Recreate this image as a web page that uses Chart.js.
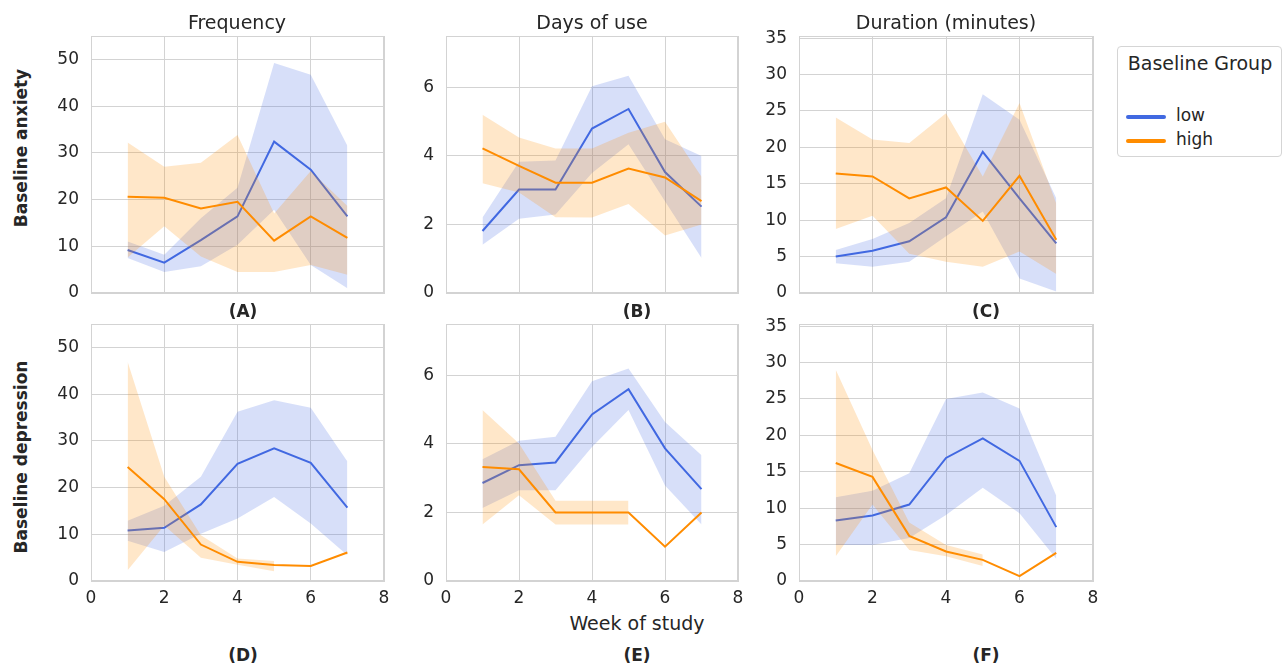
<!DOCTYPE html>
<html>
<head>
<meta charset="utf-8">
<script src="https://cdn.jsdelivr.net/npm/chart.js@4.4.1/dist/chart.umd.min.js"></script>
<style>
  body { margin: 0; background: #fff; width: 1285px; height: 666px; position: relative; overflow: hidden;
         font-family: "DejaVu Sans", sans-serif; color: #262626; }
  canvas { position: absolute; }
  .txt { position: absolute; white-space: nowrap; transform: translate(-50%, -50%); }
  .title { font-size: 19px; }
  .row { font-size: 17px; font-weight: bold; transform: translate(-50%, -50%) rotate(-90deg); }
  .tag { font-size: 17px; font-weight: bold; }
  #legend { position: absolute; left: 1117px; top: 46px; width: 165px; height: 111px;
            border: 1px solid #d5d5d5; border-radius: 4px; box-sizing: border-box; }
  .sw { position: absolute; left: 8px; width: 40px; height: 4px; border-radius: 2px; }
  .lab { position: absolute; left: 58px; font-size: 17px; }
</style>
</head>
<body>

<canvas id="cA" width="353" height="279" style="left:41px;top:26px"></canvas>
<canvas id="cB" width="352" height="279" style="left:396px;top:26px"></canvas>
<canvas id="cC" width="354" height="279" style="left:749px;top:26px"></canvas>
<canvas id="cD" width="353" height="297" style="left:41px;top:314px"></canvas>
<canvas id="cE" width="352" height="297" style="left:396px;top:314px"></canvas>
<canvas id="cF" width="354" height="297" style="left:749px;top:314px"></canvas>

<div class="txt title" style="left:237px;top:22px">Frequency</div>
<div class="txt title" style="left:592px;top:22px">Days of use</div>
<div class="txt title" style="left:946px;top:22px">Duration (minutes)</div>

<div class="txt row" style="left:21px;top:148px">Baseline anxiety</div>
<div class="txt row" style="left:21px;top:457px">Baseline depression</div>

<div class="txt tag" style="left:243px;top:311px">(A)</div>
<div class="txt tag" style="left:637px;top:311px">(B)</div>
<div class="txt tag" style="left:986px;top:311px">(C)</div>
<div class="txt title" style="left:637px;top:623px">Week of study</div>
<div class="txt tag" style="left:243px;top:655px">(D)</div>
<div class="txt tag" style="left:637px;top:655px">(E)</div>
<div class="txt tag" style="left:986px;top:655px">(F)</div>

<div id="legend">
  <div class="txt title" style="left:82px;top:16px">Baseline Group</div>
  <div class="sw" style="top:68px;background:#4169e1"></div>
  <div class="lab" style="top:58px">low</div>
  <div class="sw" style="top:92px;background:#ff8c00"></div>
  <div class="lab" style="top:82px">high</div>
</div>

<script>
const weeks = [1, 2, 3, 4, 5, 6, 7];
const xTicks = [0, 2, 4, 6, 8];
const freqTicks = [0, 10, 20, 30, 40, 50];
const daysTicks = [0, 2, 4, 6];
const durTicks = [0, 5, 10, 15, 20, 25, 30, 35];

// (A) frequency, baseline anxiety
const freqAnxLow     = [9.2, 6.5, 11.3, 16.4, 32.4, 26.4, 16.4];
const freqAnxLowLo   = [7.5, 4.5, 5.7, 10.3, 17.8, 6.0, 1.0];
const freqAnxLowHi   = [11.0, 8.2, 16.0, 22.5, 49.2, 46.7, 31.5];
const freqAnxHigh    = [20.6, 20.4, 18.1, 19.5, 11.2, 16.4, 11.8];
const freqAnxHighLo  = [7.6, 14.3, 7.8, 4.5, 4.5, 6.0, 3.9];
const freqAnxHighHi  = [32.2, 27.0, 27.9, 33.8, 17.0, 26.1, 18.6];

// (B) days of use, baseline anxiety
const daysAnxLow     = [1.81, 3.02, 3.02, 4.80, 5.37, 3.53, 2.52];
const daysAnxLowLo   = [1.41, 2.17, 2.29, 3.50, 4.34, 2.68, 1.02];
const daysAnxLowHi   = [2.20, 3.83, 3.87, 6.03, 6.34, 4.49, 4.00];
const daysAnxHigh    = [4.22, 3.71, 3.22, 3.22, 3.63, 3.37, 2.68];
const daysAnxHighLo  = [3.20, 2.93, 2.21, 2.20, 2.60, 1.68, 2.00];
const daysAnxHighHi  = [5.20, 4.54, 4.22, 4.22, 4.68, 5.00, 3.39];

// (C) duration, baseline anxiety
const durAnxLow      = [5.0, 5.8, 7.1, 10.4, 19.4, 13.0, 6.8];
const durAnxLowLo    = [4.1, 3.6, 4.3, 7.8, 11.2, 2.0, 0.2];
const durAnxLowHi    = [5.9, 7.4, 9.6, 13.0, 27.3, 23.8, 13.0];
const durAnxHigh     = [16.4, 16.0, 13.0, 14.5, 9.9, 16.1, 7.3];
const durAnxHighLo   = [8.8, 10.6, 5.4, 4.3, 3.6, 5.7, 2.6];
const durAnxHighHi   = [24.1, 21.1, 20.6, 24.7, 16.0, 26.1, 12.3];

// (D) frequency, baseline depression
const freqDepLow     = [10.8, 11.4, 16.4, 25.1, 28.4, 25.3, 15.7];
const freqDepLowLo   = [8.6, 6.2, 10.1, 13.4, 18.0, 12.3, 5.5];
const freqDepLowHi   = [12.9, 16.1, 22.3, 36.2, 38.7, 37.1, 25.6];
const freqDepHigh    = [24.4, 17.5, 7.8, 4.1, 3.4, 3.2, 6.1];
const freqDepHighLo  = [2.3, 11.9, 5.0, 3.5, 2.1, null, null];
const freqDepHighHi  = [46.9, 22.3, 9.8, 4.8, 4.3, null, null];

// (E) days of use, baseline depression
const daysDepLow     = [2.86, 3.38, 3.46, 4.86, 5.60, 3.87, 2.68];
const daysDepLowLo   = [2.13, 2.65, 2.65, 3.91, 4.99, 2.79, 1.65];
const daysDepLowHi   = [3.55, 4.09, 4.21, 5.83, 6.20, 4.64, 3.67];
const daysDepHigh    = [3.33, 3.26, 2.0, 2.0, 2.0, 1.0, 2.0];
const daysDepHighLo  = [1.65, 2.50, 1.65, 1.65, 1.65, null, null];
const daysDepHighHi  = [4.99, 4.01, 2.34, 2.34, 2.34, null, null];

// (F) duration, baseline depression
const durDepLow      = [8.3, 9.0, 10.5, 16.9, 19.6, 16.5, 7.4];
const durDepLowLo    = [4.95, 4.95, 5.9, 9.05, 12.8, 9.3, 3.05];
const durDepLowHi    = [11.5, 12.4, 14.8, 25.0, 25.9, 23.7, 11.7];
const durDepHigh     = [16.2, 14.3, 6.2, 4.05, 2.9, 0.68, 3.86];
const durDepHighLo   = [3.4, 10.5, 4.27, 3.4, 2.05, null, null];
const durDepHighHi   = [29.0, 18.0, 8.05, 4.95, 3.64, null, null];

const BLUE = '#4169e1', ORANGE = '#ff8c00';
const BLUE_FILL = 'rgba(65,105,225,0.21)', ORANGE_FILL = 'rgba(255,140,0,0.21)';
const GRID = '#d3d3d3';
const TEXT = '#262626';

const pts = arr => weeks.map((w, i) => ({ x: w, y: arr[i] })).filter(p => p.y !== null);

// grey box round the plot area
const frame = {
  id: 'frame',
  beforeDatasetsDraw(chart) {
    const a = chart.chartArea, ctx = chart.ctx;
    ctx.save();
    ctx.strokeStyle = GRID;
    ctx.lineWidth = 1;
    ctx.strokeRect(Math.round(a.left) + 0.5, Math.round(a.top) + 0.5,
                   Math.round(a.right - a.left) - 1, Math.round(a.bottom - a.top) - 1);
    ctx.restore();
  }
};

function band(lo, hi, fill, order) {
  return [
    { data: pts(lo), borderWidth: 0, pointRadius: 0, fill: false, order: order },
    { data: pts(hi), borderWidth: 0, pointRadius: 0, fill: '-1', backgroundColor: fill, order: order }
  ];
}

function line(vals, color, order) {
  return { data: pts(vals), borderColor: color, borderWidth: 2, pointRadius: 0, fill: false, tension: 0, order: order };
}

function panel(id, s, yMax, yTicks, bottomRow) {
  new Chart(document.getElementById(id), {
    type: 'line',
    data: {
      datasets: [
        line(s.low, BLUE, 4),
        ...band(s.lowLo, s.lowHi, BLUE_FILL, 3),
        line(s.high, ORANGE, 2),
        ...band(s.highLo, s.highHi, ORANGE_FILL, 1)
      ]
    },
    options: {
      responsive: false,
      animation: false,
      devicePixelRatio: 1,
      layout: { padding: { top: 10, right: 10, bottom: bottomRow ? 0 : 12, left: 0 } },
      plugins: { legend: { display: false }, tooltip: { enabled: false } },
      scales: {
        x: {
          type: 'linear', min: 0, max: 8,
          grid: { color: GRID, drawTicks: false },
          border: { display: true, color: GRID },
          ticks: { display: bottomRow, color: TEXT, padding: 7, font: { family: 'DejaVu Sans', size: 17 } },
          afterBuildTicks: sc => { sc.ticks = xTicks.map(v => ({ value: v })); },
          afterFit: sc => {
            sc.height = bottomRow ? 30 : 0;
            sc.paddingLeft = 0; sc.paddingRight = 0;
          }
        },
        y: {
          type: 'linear', min: 0, max: yMax,
          grid: { color: GRID, drawTicks: false },
          border: { display: true, color: GRID },
          ticks: { color: TEXT, padding: 12, font: { family: 'DejaVu Sans', size: 17 } },
          afterBuildTicks: sc => { sc.ticks = yTicks.map(v => ({ value: v })); },
          afterFit: sc => {
            sc.width = 50;
            sc.paddingTop = 0; sc.paddingBottom = 0;
          }
        }
      }
    },
    plugins: [frame]
  });
}

panel('cA', { low: freqAnxLow, lowLo: freqAnxLowLo, lowHi: freqAnxLowHi,
              high: freqAnxHigh, highLo: freqAnxHighLo, highHi: freqAnxHighHi }, 55, freqTicks, false);
panel('cB', { low: daysAnxLow, lowLo: daysAnxLowLo, lowHi: daysAnxLowHi,
              high: daysAnxHigh, highLo: daysAnxHighLo, highHi: daysAnxHighHi }, 7.5, daysTicks, false);
panel('cC', { low: durAnxLow, lowLo: durAnxLowLo, lowHi: durAnxLowHi,
              high: durAnxHigh, highLo: durAnxHighLo, highHi: durAnxHighHi }, 35.3, durTicks, false);
panel('cD', { low: freqDepLow, lowLo: freqDepLowLo, lowHi: freqDepLowHi,
              high: freqDepHigh, highLo: freqDepHighLo, highHi: freqDepHighHi }, 55, freqTicks, true);
panel('cE', { low: daysDepLow, lowLo: daysDepLowLo, lowHi: daysDepLowHi,
              high: daysDepHigh, highLo: daysDepHighLo, highHi: daysDepHighHi }, 7.5, daysTicks, true);
panel('cF', { low: durDepLow, lowLo: durDepLowLo, lowHi: durDepLowHi,
              high: durDepHigh, highLo: durDepHighLo, highHi: durDepHighHi }, 35.3, durTicks, true);
</script>
</body>
</html>
